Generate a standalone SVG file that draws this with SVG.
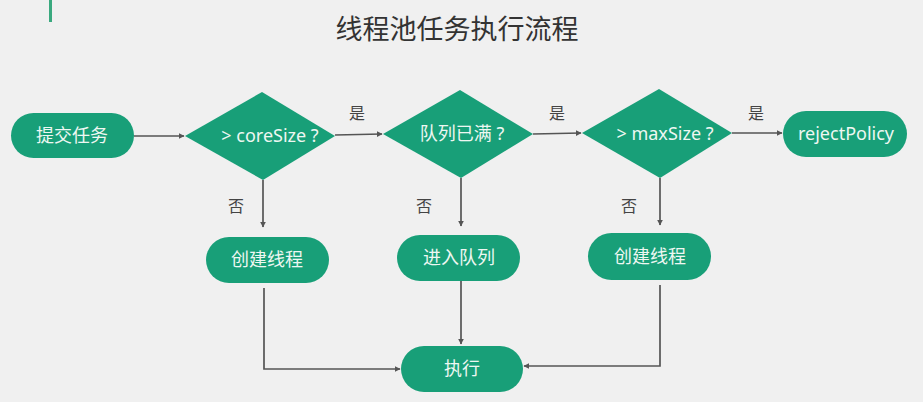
<svg xmlns="http://www.w3.org/2000/svg" width="923" height="402" viewBox="0 0 923 402">
<defs>
<marker id="arr" viewBox="0 0 10 10" refX="9" refY="5" markerWidth="6" markerHeight="6" markerUnits="userSpaceOnUse" orient="auto">
<path d="M0,0 L10,5 L0,10 z" fill="#555"/>
</marker>
<style>
.node{fill:#189f78;}
.nt{fill:#eef7f2;font-family:"Noto Sans","Noto Sans CJK SC",sans-serif;font-size:18px;text-anchor:middle;dominant-baseline:central;}
.lbl{fill:#444;font-family:"Noto Sans CJK SC",sans-serif;font-size:16px;text-anchor:middle;dominant-baseline:central;}
.edge{fill:none;stroke:#555;stroke-width:1.7;marker-end:url(#arr);}
.title{fill:#333;font-family:"Noto Sans CJK SC",sans-serif;font-size:27px;text-anchor:middle;}
</style>
</defs>
<rect width="923" height="402" fill="#f0f0f0"/>
<rect x="49" y="0" width="3" height="22" fill="#3aa97f"/>
<text class="title" x="457" y="39">线程池任务执行流程</text>

<g id="connectors">
<path class="edge" d="M134,136 L184,136"/>
<path class="edge" d="M335,135 L382,134"/>
<path class="edge" d="M533,134 L581,133"/>
<path class="edge" d="M732,133 L782,133"/>
<path class="edge" d="M263,180 L263,227"/>
<path class="edge" d="M461,178 L461,226"/>
<path class="edge" d="M660,178 L660,225"/>
<path class="edge" d="M264,288 L264,369 L400,369"/>
<path class="edge" d="M461,280 L461,344"/>
<path class="edge" d="M660,285 L660,366 L524,366"/>
<text class="lbl" x="357" y="112">是</text>
<text class="lbl" x="557" y="112">是</text>
<text class="lbl" x="756" y="112">是</text>
<text class="lbl" x="236" y="205">否</text>
<text class="lbl" x="424" y="205">否</text>
<text class="lbl" x="629" y="205">否</text>
</g>

<g id="submit">
<rect class="node" x="11" y="113" width="123" height="45" rx="22.5"/>
<text class="nt" x="72" y="135">提交任务</text>
</g>
<g id="coreSize">
<polygon class="node" points="185,136 262,92 335,136 263,180"/>
<text class="nt" x="270" y="135">&gt; coreSize ?</text>
</g>
<g id="queueFull">
<polygon class="node" points="383,134 460,90 533,134 461,178"/>
<text class="nt" x="462" y="133">队列已满 ?</text>
</g>
<g id="maxSize">
<polygon class="node" points="582,133 659,89 732,133 660,178"/>
<text class="nt" x="665" y="133">&gt; maxSize ?</text>
</g>
<g id="reject">
<rect class="node" x="783" y="111" width="124" height="46" rx="23"/>
<text class="nt" x="846" y="133">rejectPolicy</text>
</g>
<g id="createThread1">
<rect class="node" x="206" y="237" width="123" height="46" rx="23"/>
<text class="nt" x="267" y="259">创建线程</text>
</g>
<g id="enqueue">
<rect class="node" x="397" y="235" width="123" height="46" rx="23"/>
<text class="nt" x="459" y="257">进入队列</text>
</g>
<g id="createThread2">
<rect class="node" x="588" y="233" width="123" height="47" rx="23.5"/>
<text class="nt" x="650" y="256">创建线程</text>
</g>
<g id="execute">
<rect class="node" x="401" y="346" width="122" height="46" rx="23"/>
<text class="nt" x="462" y="368">执行</text>
</g>
</svg>
